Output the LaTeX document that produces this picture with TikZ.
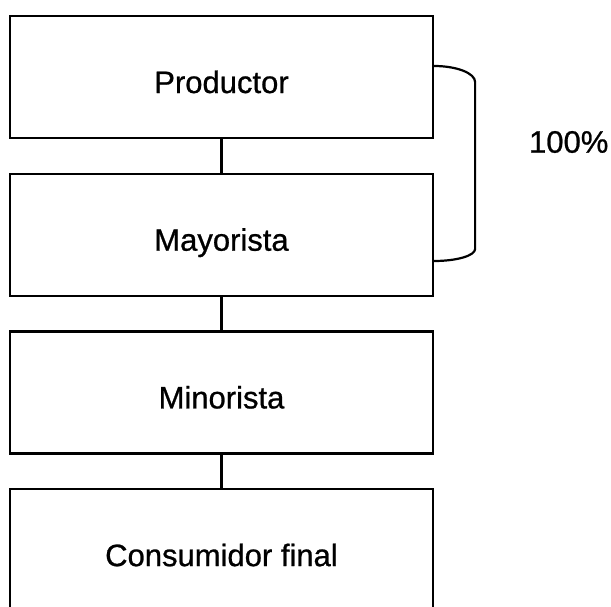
\documentclass[tikz,border=0pt]{standalone}
\usepackage{fontspec}
\setmainfont{Liberation Sans}
\newfontfamily\escaneo{Liberation Sans}[FakeBold=0.8]
\usepackage{tikz}

\begin{document}
\begin{tikzpicture}[x=1pt, y=1pt, line width=2.2pt,
    caja/.style={rectangle, draw, minimum width=423pt, minimum height=122pt,
      font=\escaneo\fontsize{31}{37}\selectfont, text height=32pt, text depth=0pt},
    etiqueta/.style={font=\escaneo\fontsize{31}{37}\selectfont, inner sep=0pt}]
  % Page
  \useasboundingbox (0,0) rectangle (611,-606);
  \clip (0,0) rectangle (611,-606);

  % Boxes of the chain
  \foreach \i/\txt in {0/Productor, 1/Mayorista, 2/Minorista, 3/{Consumidor final}} {
    \node[caja] (c\i) at (221.5, -77-\i*157.7) {\txt};
  }

  % Lines between boxes
  \foreach \i/\j in {0/1, 1/2, 2/3} {
    \draw (c\i.south) -- (c\j.north);
  }

  % Bracket on the first two boxes
  \coordinate (llave) at ([yshift=11pt]c0.east);
  \draw (llave) arc[start angle=90, end angle=0, x radius=41pt, y radius=16pt]
    -- ++(0,-167) arc[start angle=0, end angle=-90, x radius=41pt, y radius=12pt];

  % Share
  \node[etiqueta, anchor=west] (pct) at (528, -142) {100\%};
\end{tikzpicture}
\end{document}
